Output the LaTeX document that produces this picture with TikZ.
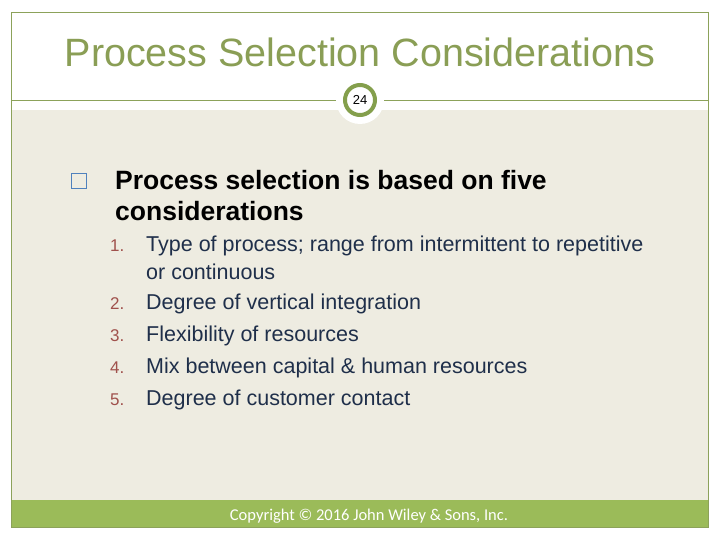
\documentclass[tikz,border=0pt]{standalone}
\usepackage{fontspec}
\setmainfont{Liberation Sans}
\newfontfamily\carl{Carlito}
\definecolor{beige}{HTML}{EEECE1}
\definecolor{wgreen}{HTML}{9BBB59}
\definecolor{ttl}{HTML}{8A9E55}
\definecolor{brd}{HTML}{8CA25A}
\definecolor{bul}{HTML}{4F81BD}
\definecolor{numc}{HTML}{A0514C}
\definecolor{itc}{HTML}{1F2F4A}
\tikzset{item/.style={anchor=west,inner sep=0pt,font=\fontsize{21.5}{24}\selectfont,text=itc},
num/.style={anchor=west,inner sep=0pt,font=\fontsize{17}{20}\selectfont,text=numc},
head/.style={anchor=west,inner sep=0pt,font=\bfseries\fontsize{26.5}{30}\selectfont,text=black}}
\begin{document}
\begin{tikzpicture}[x=1pt,y=-1pt]
\useasboundingbox (0,0) rectangle (720,540);
\fill[white] (0,0) rectangle (720,540);
\fill[beige] (11,110) rectangle (708,500);
\fill[wgreen] (11,500) rectangle (708,527);
\draw[brd,line width=0.8pt] (11,12) rectangle (708,527);
\draw[brd,line width=0.8pt] (11,100) -- (708,100);
\node[circle,fill=white,minimum size=48pt] (c) at (360,100) {};
\node[circle,draw=wgreen!85!black,line width=4pt,fill=white,minimum size=30pt,inner sep=0pt,font=\fontsize{13}{14}\selectfont] (num) at (360,100) {24};
\node[text=ttl,font=\fontsize{39.5}{42}\selectfont] (title) at (360,52) {Process Selection Considerations};
\node[draw=bul,line width=1pt,minimum size=15pt,inner sep=0pt] (b) at (78.5,181) {};
\node[head] (h) at (115,180) {Process selection is based on five};
\node[head] (h2) at (115,211) {considerations};
\node[num] (n1) at (110,246) {1.};
\node[num] (n2) at (110,304) {2.};
\node[num] (n3) at (110,336) {3.};
\node[num] (n4) at (110,368) {4.};
\node[num] (n5) at (110,400) {5.};
\node[item] (t1) at (146,246) {Type of process; range from intermittent to repetitive};
\node[item] (t1b) at (146,272) {or continuous};
\node[item] (t2) at (146,304) {Degree of vertical integration};
\node[item] (t3) at (146,336) {Flexibility of resources};
\node[item] (t4) at (146,368) {Mix between capital \& human resources};
\node[item] (t5) at (146,400) {Degree of customer contact};
\node[text=white,font=\carl\fontsize{16.5}{18}\selectfont] (copy) at (369,516) {Copyright © 2016 John Wiley \& Sons, Inc.};
\end{tikzpicture}
\end{document}
